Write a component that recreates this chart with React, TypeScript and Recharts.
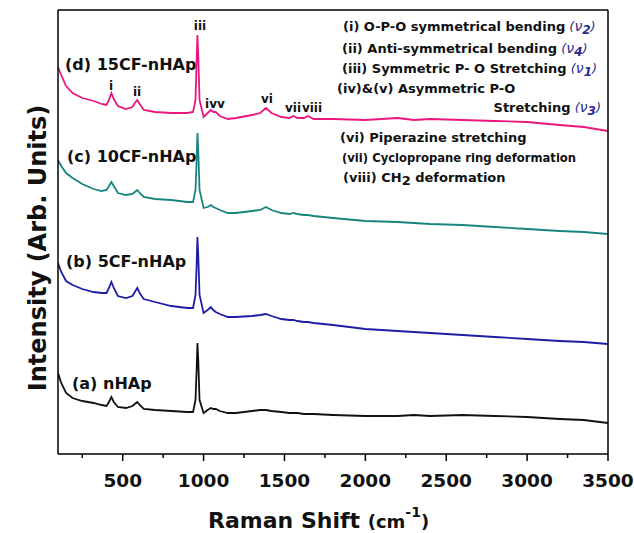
import { LineChart, Line, XAxis, YAxis } from "recharts";

// Raman shift positions (cm-1) shared by every spectrum
const shift = [
  100, 120, 150, 190, 250, 320, 370, 400, 415, 430, 445, 470, 520, 560, 575, 590, 605, 630, 700, 800,
  900, 935, 950, 957, 962, 967, 975, 1000, 1025, 1045, 1060, 1075, 1100, 1150, 1200, 1300, 1350, 1385,
  1420, 1480, 1530, 1555, 1580, 1620, 1645, 1680, 1800, 2000, 2200, 2300, 2400, 2600, 2800, 3000, 3200,
  3350, 3500,
];

// intensities (arb. units, offset stacked)
const nHAp = [
  81, 71, 61, 56, 53, 51, 49, 48, 52, 57, 52, 47, 46, 48, 50, 52, 49, 45, 44, 43,
  42, 42, 54, 84, 111, 94, 54, 41, 44, 46, 45, 45, 43, 41, 41, 43, 44, 44,
  43, 42, 41, 41, 41, 40, 40, 40, 39, 38, 38, 39, 38, 39, 38, 37, 35,
  34, 31,
];
const cf5 = [
  191, 182, 173, 169, 165, 162, 161, 161, 166, 172, 166, 158, 156, 158, 162, 166, 161, 155, 152, 148,
  146, 146, 159, 189, 217, 199, 159, 141, 144, 147, 144, 142, 140, 137, 137, 138, 139, 140,
  138, 135, 134, 134, 133, 132, 132, 131, 129, 125, 123, 122, 121, 119, 117, 115, 113,
  112, 110,
];
const cf10 = [
  294, 288, 281, 276, 270, 265, 263, 264, 268, 272, 268, 261, 259, 260, 262, 264, 261, 257, 255, 254,
  252, 252, 264, 294, 321, 304, 264, 246, 247, 249, 247, 246, 244, 241, 241, 243, 244, 247,
  244, 241, 240, 241, 240, 239, 239, 238, 236, 233, 232, 231, 230, 229, 227, 225, 223,
  222, 220,
];
const cf15 = [
  387, 379, 368, 361, 356, 353, 350, 349, 354, 361, 355, 348, 345, 347, 351, 354, 350, 344, 342, 341,
  341, 342, 354, 394, 419, 399, 354, 337, 341, 344, 342, 342, 338, 335, 336, 339, 341, 346,
  341, 337, 336, 338, 336, 336, 338, 335, 335, 334, 336, 334, 335, 334, 333, 332, 329,
  327, 323,
];

const xTicks = [250, 500, 750, 1000, 1250, 1500, 1750, 2000, 2250, 2500, 2750, 3000, 3250, 3500];

const rows = shift.map((s, i) => ({ shift: s, a: nHAp[i], b: cf5[i], c: cf10[i], d: cf15[i] }));

const FONT = "'DejaVu Sans', Arial, sans-serif";
const NU = "#2a2c8c";
const AXIS = { stroke: "#000", strokeWidth: 1.5 };

function ShiftTick({ x, y, payload }: any) {
  const major = payload.value % 500 === 0;
  return (
    <g>
      <line x1={x} x2={x} y1={y} y2={y + (major ? 7 : 4)} stroke="#000" strokeWidth={1.5} />
      {major && (
        <text x={x} y={y + 33} textAnchor="middle" fontFamily={FONT} fontWeight="bold" fontSize={18.5} fill="#111">
          {payload.value}
        </text>
      )}
    </g>
  );
}

function Nu({ sub }: { sub: string }) {
  return (
    <tspan fill={NU} fontWeight="normal" fontStyle="italic">
      {" ("}
      <tspan fontSize={14}>ν</tspan>
      <tspan dy={3} fontSize={12} fontWeight="bold">{sub}</tspan>
      <tspan dy={-3}>)</tspan>
    </tspan>
  );
}

export default function App() {
  const note = { fontFamily: FONT, fontWeight: "bold", fontSize: 13, fill: "#111" } as const;
  const peak = { fontFamily: FONT, fontWeight: "bold", fontSize: 12, fill: "#111", textAnchor: "middle" } as const;
  const name = { fontFamily: FONT, fontWeight: "bold", fontSize: 16, fill: "#111" } as const;

  return (
    <div style={{ position: "absolute", left: 0, top: 0, background: "#fff" }}>
      <LineChart width={634} height={533} data={rows} margin={{ top: 9, right: 25, bottom: 78, left: 57 }}>
        <XAxis
          dataKey="shift"
          type="number"
          domain={[100, 3500]}
          ticks={xTicks}
          interval={0}
          height={1}
          tickSize={0}
          tickMargin={0}
          tick={<ShiftTick />}
          axisLine={AXIS}
          allowDataOverflow
        />
        <XAxis
          xAxisId="top"
          orientation="top"
          dataKey="shift"
          type="number"
          domain={[100, 3500]}
          height={1}
          tick={false}
          tickLine={false}
          axisLine={AXIS}
        />
        <YAxis domain={[0, 444]} width={1} tick={false} tickLine={false} axisLine={AXIS} />
        <YAxis yAxisId="right" orientation="right" domain={[0, 444]} width={1} tick={false} tickLine={false} axisLine={AXIS} />

        <Line dataKey="a" stroke="#111111" strokeWidth={1.8} dot={false} type="linear" isAnimationActive={false} />
        <Line dataKey="b" stroke="#1e1ea4" strokeWidth={1.8} dot={false} type="linear" isAnimationActive={false} />
        <Line dataKey="c" stroke="#17857d" strokeWidth={1.8} dot={false} type="linear" isAnimationActive={false} />
        <Line dataKey="d" stroke="#e8177c" strokeWidth={1.8} dot={false} type="linear" isAnimationActive={false} />

        {/* sample names */}
        <text x={65} y={70} {...name}>(d) 15CF-nHAp</text>
        <text x={67} y={162} {...name}>(c) 10CF-nHAp</text>
        <text x={66} y={267} {...name}>(b) 5CF-nHAp</text>
        <text x={72} y={389} {...name}>(a) nHAp</text>

        {/* peak markers */}
        <text x={111} y={90} {...peak}>i</text>
        <text x={137} y={96} {...peak}>ii</text>
        <text x={200} y={30} {...peak}>iii</text>
        <text x={215} y={108} {...peak}>ivv</text>
        <text x={267} y={103} {...peak}>vi</text>
        <text x={293} y={112} {...peak}>vii</text>
        <text x={312} y={112} {...peak}>viii</text>

        {/* band assignments */}
        <text x={343} y={31} {...note}>(i) O-P-O symmetrical bending<Nu sub="2" /></text>
        <text x={342} y={53} {...note}>(ii) Anti-symmetrical bending<Nu sub="4" /></text>
        <text x={342} y={73} {...note}>(iii) Symmetric P- O Stretching<Nu sub="1" /></text>
        <text x={337} y={93} {...note}>(iv)&amp;(v) Asymmetric P-O</text>
        <text x={601} y={112} {...note} textAnchor="end">Stretching<Nu sub="3" /></text>
        <text x={340} y={142} {...note}>(vi) Piperazine stretching</text>
        <text x={342} y={162} {...note} fontSize={11.6}>(vii) Cyclopropane ring deformation</text>
        <text x={343} y={182} {...note}>
          (viii) CH<tspan dy={3}>2</tspan>
          <tspan dy={-3}> deformation</tspan>
        </text>

        {/* axis titles */}
        <text x={208} y={528} fontFamily={FONT} fontWeight="bold" fontSize={22} fill="#111">
          Raman Shift <tspan fontSize={18}>(cm</tspan>
          <tspan fontSize={14} dy={-11}>-1</tspan>
          <tspan fontSize={18} dy={11}>)</tspan>
        </text>
        <text
          x={46}
          y={248}
          transform="rotate(-90 46 248)"
          textAnchor="middle"
          fontFamily={FONT}
          fontWeight="bold"
          fontSize={24}
          fill="#111"
        >
          Intensity (Arb. Units)
        </text>
      </LineChart>
    </div>
  );
}
